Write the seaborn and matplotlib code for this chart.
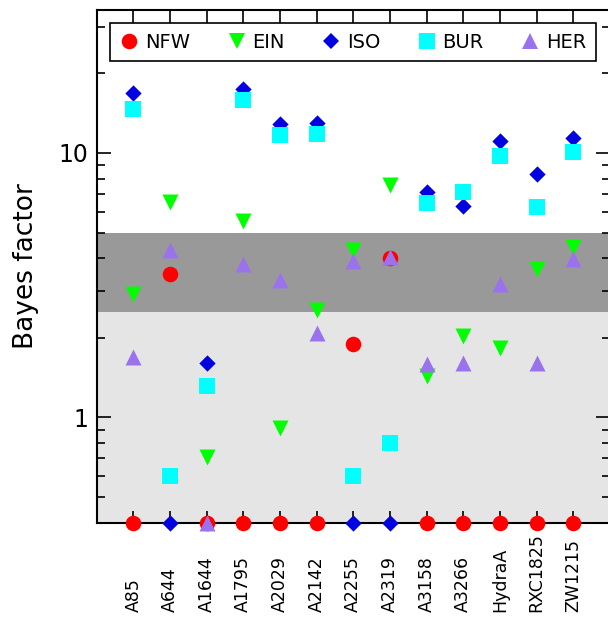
import matplotlib
matplotlib.use("Agg")
import matplotlib.pyplot as plt
from matplotlib.lines import Line2D
import seaborn as sns
import pandas as pd
import numpy as np
from matplotlib.ticker import LogLocator, NullFormatter, FixedLocator

clusters = ["A85", "A644", "A1644", "A1795", "A2029", "A2142", "A2255",
            "A2319", "A3158", "A3266", "HydraA", "RXC1825", "ZW1215"]
# Bayes factors; 0.4 = reference model (drawn on the bottom axis)
NFW = [0.4, 3.5, 0.4, 0.4, 0.4, 0.4, 1.90, 4.0, 0.4, 0.4, 0.4, 0.4, 0.4]
EIN = [2.93, 6.55, 0.71, 5.54, 0.91, 2.54, 4.30, 7.57, 1.43, 2.03, 1.83, 3.65, 4.39]
ISO = [16.9, 0.4, 1.60, 17.5, 12.9, 13.0, 0.4, 0.4, 7.14, 6.31, 11.1, 8.31, 11.4]
BUR = [14.7, 0.60, 1.31, 15.8, 11.7, 11.8, 0.60, 0.80, 6.49, 7.11, 9.75, 6.22, 10.1]
HER = [1.69, 4.28, 0.4, 3.81, 3.30, 2.09, 3.89, 4.05, 1.59, 1.60, 3.20, 1.60, 3.98]

models = ["NFW", "EIN", "ISO", "BUR", "HER"]
values = {"NFW": NFW, "EIN": EIN, "ISO": ISO, "BUR": BUR, "HER": HER}
colors = {"NFW": "#ff0000", "EIN": "#00ff00", "ISO": "#0000e0",
          "BUR": "#00ffff", "HER": "#9b72ee"}
markers = {"NFW": "o", "EIN": "v", "ISO": "D", "BUR": "s", "HER": "^"}
msize = {"NFW": 11.2, "EIN": 11.5, "ISO": 8.3, "BUR": 11.3, "HER": 11.5}

sns.set_style("white")
plt.rcParams["font.family"] = ["DejaVu Sans"]
plt.rcParams["text.color"] = "black"
plt.rcParams["axes.labelcolor"] = "black"
plt.rcParams["xtick.color"] = "black"
plt.rcParams["ytick.color"] = "black"

fig = plt.figure(figsize=(6.08, 6.17), dpi=100)
W, H = 608, 617
x0, x1 = 96.7, 610.0
y0, y1 = 522.7, 10.0
ax = fig.add_axes([x0 / W, 1 - y0 / H, (x1 - x0) / W, (y0 - y1) / H])

xpos = np.arange(1, len(clusters) + 1)
ax.axhspan(0.4, 2.5, color="#e5e5e5", zorder=0, lw=0)
ax.axhspan(2.5, 5.0, color="#999999", zorder=0, lw=0)

for i, m in enumerate(models):
    df = pd.DataFrame({"x": xpos, "y": values[m]})
    sns.scatterplot(data=df, x="x", y="y", ax=ax, marker=markers[m],
                    s=msize[m] ** 2, color=colors[m], linewidth=0,
                    clip_on=False, zorder=3 + i, legend=False)

ax.set_yscale("log")
ax.set_ylim(0.4, 34.7)
ax.set_xlim(0, 14)
ax.set_xlabel("")
ax.set_ylabel("Bayes factor", fontsize=19, labelpad=14, color="black")

ax.yaxis.set_major_locator(FixedLocator([1, 10]))
ax.set_yticklabels(["1", "10"])
ax.yaxis.set_minor_locator(LogLocator(base=10, subs=np.arange(2, 10)))
ax.yaxis.set_minor_formatter(NullFormatter())
ax.set_xticks(xpos)
ax.set_xticklabels(clusters, rotation=90, fontsize=12.5)
for lab in ax.get_xticklabels():
    lab.set_verticalalignment("bottom")

ax.tick_params(axis="x", which="both", direction="in", top=True, bottom=True,
               length=9, width=1.2, pad=64, colors="black")
ax.tick_params(axis="y", which="major", direction="in", left=True, right=True,
               length=10, width=1.2, labelsize=17, pad=6, colors="black")
ax.tick_params(axis="y", which="minor", direction="in", left=True, right=True,
               length=6, width=1.2, colors="black")
for s in ax.spines.values():
    s.set_linewidth(1.5)
    s.set_color("black")

handles = [Line2D([], [], linestyle="none", marker=markers[m],
                  markersize=msize[m], color=colors[m], markeredgewidth=0,
                  label=m) for m in models]
leg = ax.legend(handles=handles, loc="upper left", ncol=5, fontsize=14,
                frameon=True, fancybox=False, edgecolor="black", framealpha=1,
                borderpad=0.5, handletextpad=0.3, columnspacing=1.9,
                handlelength=1.0, borderaxespad=0,
                bbox_to_anchor=(0.026, 0.975))
leg.get_frame().set_linewidth(1.2)
for t in leg.get_texts():
    t.set_color("black")

fig.savefig("out.png", dpi=100)
